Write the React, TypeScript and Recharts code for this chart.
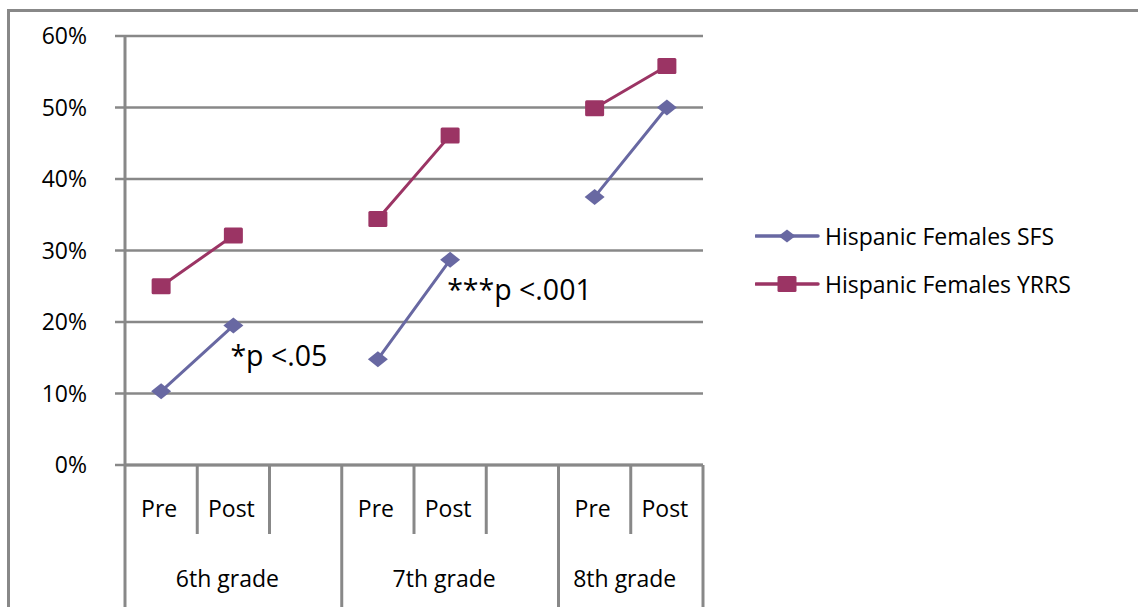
import React from "react";
import { LineChart, Line, XAxis, YAxis, CartesianGrid, Legend, LabelList } from "recharts";

const categories = ["Pre", "Post", "", "Pre", "Post", "", "Pre", "Post"];
const gradeIndex = [0, 0, 0, 1, 1, 1, 2, 2];
const gradeLabels = ["6th grade", "7th grade", "8th grade"];
const sfsValues = [10.3, 19.5, null, 14.8, 28.7, null, 37.5, 50.0];
const yrrsValues = [25.0, 32.1, null, 34.4, 46.1, null, 49.9, 55.8];
const notes = ["", "*p <.05", "", "", "***p <.001", "", "", ""];
const yTicks = [0, 10, 20, 30, 40, 50, 60];
const seriesNames = ["Hispanic Females SFS", "Hispanic Females YRRS"];

const SFS_COLOR = "#6868A2";
const YRRS_COLOR = "#9B3464";
const GRID = "#888888";
const FONT = "'Open Sans', sans-serif";
const FS = 23;

const data = categories.map((c, i) => ({
  key: `c${i}`,
  label: c,
  grade: gradeIndex[i],
  sfs: sfsValues[i],
  yrrs: yrrsValues[i],
  note: notes[i],
}));

const XTick = (props: any) => {
  const { x, y, payload } = props;
  const i: number = payload.index;
  const half: number = payload.offset && payload.offset > 0 ? payload.offset : 36;
  const isGroupStart = i === 0 || gradeIndex[i] !== gradeIndex[i - 1];
  const isLast = i === categories.length - 1;
  const shortLen = 69;
  const longLen = 142;
  const count = gradeIndex.filter((g) => g === gradeIndex[i]).length;
  const groupCenter = x - half + count * half;
  return (
    <g>
      <line
        x1={x - half}
        x2={x - half}
        y1={y}
        y2={y + (isGroupStart ? longLen : shortLen)}
        stroke={GRID}
        strokeWidth={3}
      />
      {isLast && (
        <line x1={x + half} x2={x + half} y1={y} y2={y + longLen} stroke={GRID} strokeWidth={3} />
      )}
      <text
        x={x - 2}
        y={y + 46}
        textAnchor="middle"
        dominantBaseline="middle"
        fontSize={FS}
        fontFamily={FONT}
        fill="#000"
      >
        {categories[i]}
      </text>
      {isGroupStart && (
        <text
          x={groupCenter - 6}
          y={y + 116}
          textAnchor="middle"
          dominantBaseline="middle"
          fontSize={FS}
          fontFamily={FONT}
          fill="#000"
        >
          {gradeLabels[gradeIndex[i]]}
        </text>
      )}
    </g>
  );
};

const diamondPath = (cx: number, cy: number, w: number, h: number) =>
  `M${cx - w / 2},${cy} L${cx},${cy - h / 2} L${cx + w / 2},${cy} L${cx},${cy + h / 2} Z`;

const DiamondDot = (p: any) => {
  if (p.cx == null || p.cy == null || p.value == null || (p.payload && p.payload.sfs == null))
    return <g key={`d${p.index}`} />;
  return <path key={`d${p.index}`} d={diamondPath(p.cx, p.cy, 20, 16)} fill={SFS_COLOR} />;
};

const SquareDot = (p: any) => {
  if (p.cx == null || p.cy == null || p.value == null || (p.payload && p.payload.yrrs == null))
    return <g key={`s${p.index}`} />;
  return (
    <rect
      key={`s${p.index}`}
      x={p.cx - 9.5}
      y={p.cy - 8}
      width={19}
      height={16}
      rx={1.5}
      fill={YRRS_COLOR}
    />
  );
};

const NoteLabel = (p: any) => {
  const { x, y, value } = p;
  if (!value || x == null || y == null) return null;
  return (
    <text
      x={x - 3}
      y={y + 33}
      dominantBaseline="middle"
      fontSize={28.5}
      fontFamily={FONT}
      fill="#000"
    >
      {value}
    </text>
  );
};

const LegendContent = () => {
  const colors = [SFS_COLOR, YRRS_COLOR];
  return (
    <div style={{ fontFamily: FONT, fontSize: FS, color: "#000" }}>
      {seriesNames.map((name, i) => (
        <div key={name} style={{ display: "flex", alignItems: "center", height: 48 }}>
          <svg width={70} height={20} style={{ display: "block" }}>
            <line x1={1} x2={63} y1={10} y2={10} stroke={colors[i]} strokeWidth={3.5} strokeLinecap="round" />
            {i === 0 ? (
              <path d={diamondPath(32, 10, 17, 13)} fill={colors[i]} />
            ) : (
              <rect x={22.5} y={2} width={19} height={16} rx={1.5} fill={colors[i]} />
            )}
          </svg>
          <span style={{ whiteSpace: "nowrap", lineHeight: "23px" }}>{name}</span>
        </div>
      ))}
    </div>
  );
};

export default function App() {
  return (
    <div
      style={{
        position: "absolute",
        left: 7,
        top: 9,
        width: 1131,
        height: 598,
        boxSizing: "border-box",
        borderLeft: `3px solid ${GRID}`,
        borderTop: `3px solid ${GRID}`,
        overflow: "hidden",
      }}
    >
      <LineChart
        width={1128}
        height={595}
        data={data}
        margin={{ top: 24, right: 435, left: 0, bottom: 0 }}
      >
        <CartesianGrid horizontal vertical={false} stroke={GRID} strokeWidth={2.5} />
        <XAxis
          dataKey="key"
          scale="band"
          interval={0}
          height={142}
          tickSize={0}
          tickMargin={0}
          tickLine={false}
          axisLine={{ stroke: GRID, strokeWidth: 3 }}
          tick={<XTick />}
        />
        <YAxis
          width={115}
          domain={[0, 60]}
          ticks={yTicks}
          interval={0}
          tickFormatter={(v: number) => `${v}%`}
          tickSize={10}
          tickMargin={28}
          tickLine={{ stroke: GRID, strokeWidth: 2.5 }}
          axisLine={{ stroke: GRID, strokeWidth: 3 }}
          tick={{ fill: "#000", fontSize: FS, fontFamily: FONT }}
        />
        <Legend
          layout="vertical"
          align="center"
          verticalAlign="middle"
          content={<LegendContent />}
          wrapperStyle={{ position: "absolute", left: 745, top: 200, width: 380 }}
        />
        <Line
          type="linear"
          dataKey="sfs"
          name={seriesNames[0]}
          stroke={SFS_COLOR}
          strokeWidth={3}
          dot={DiamondDot}
          activeDot={false}
          isAnimationActive={false}
        >
          <LabelList dataKey="note" content={<NoteLabel />} />
        </Line>
        <Line
          type="linear"
          dataKey="yrrs"
          name={seriesNames[1]}
          stroke={YRRS_COLOR}
          strokeWidth={3}
          dot={SquareDot}
          activeDot={false}
          isAnimationActive={false}
        />
      </LineChart>
    </div>
  );
}
